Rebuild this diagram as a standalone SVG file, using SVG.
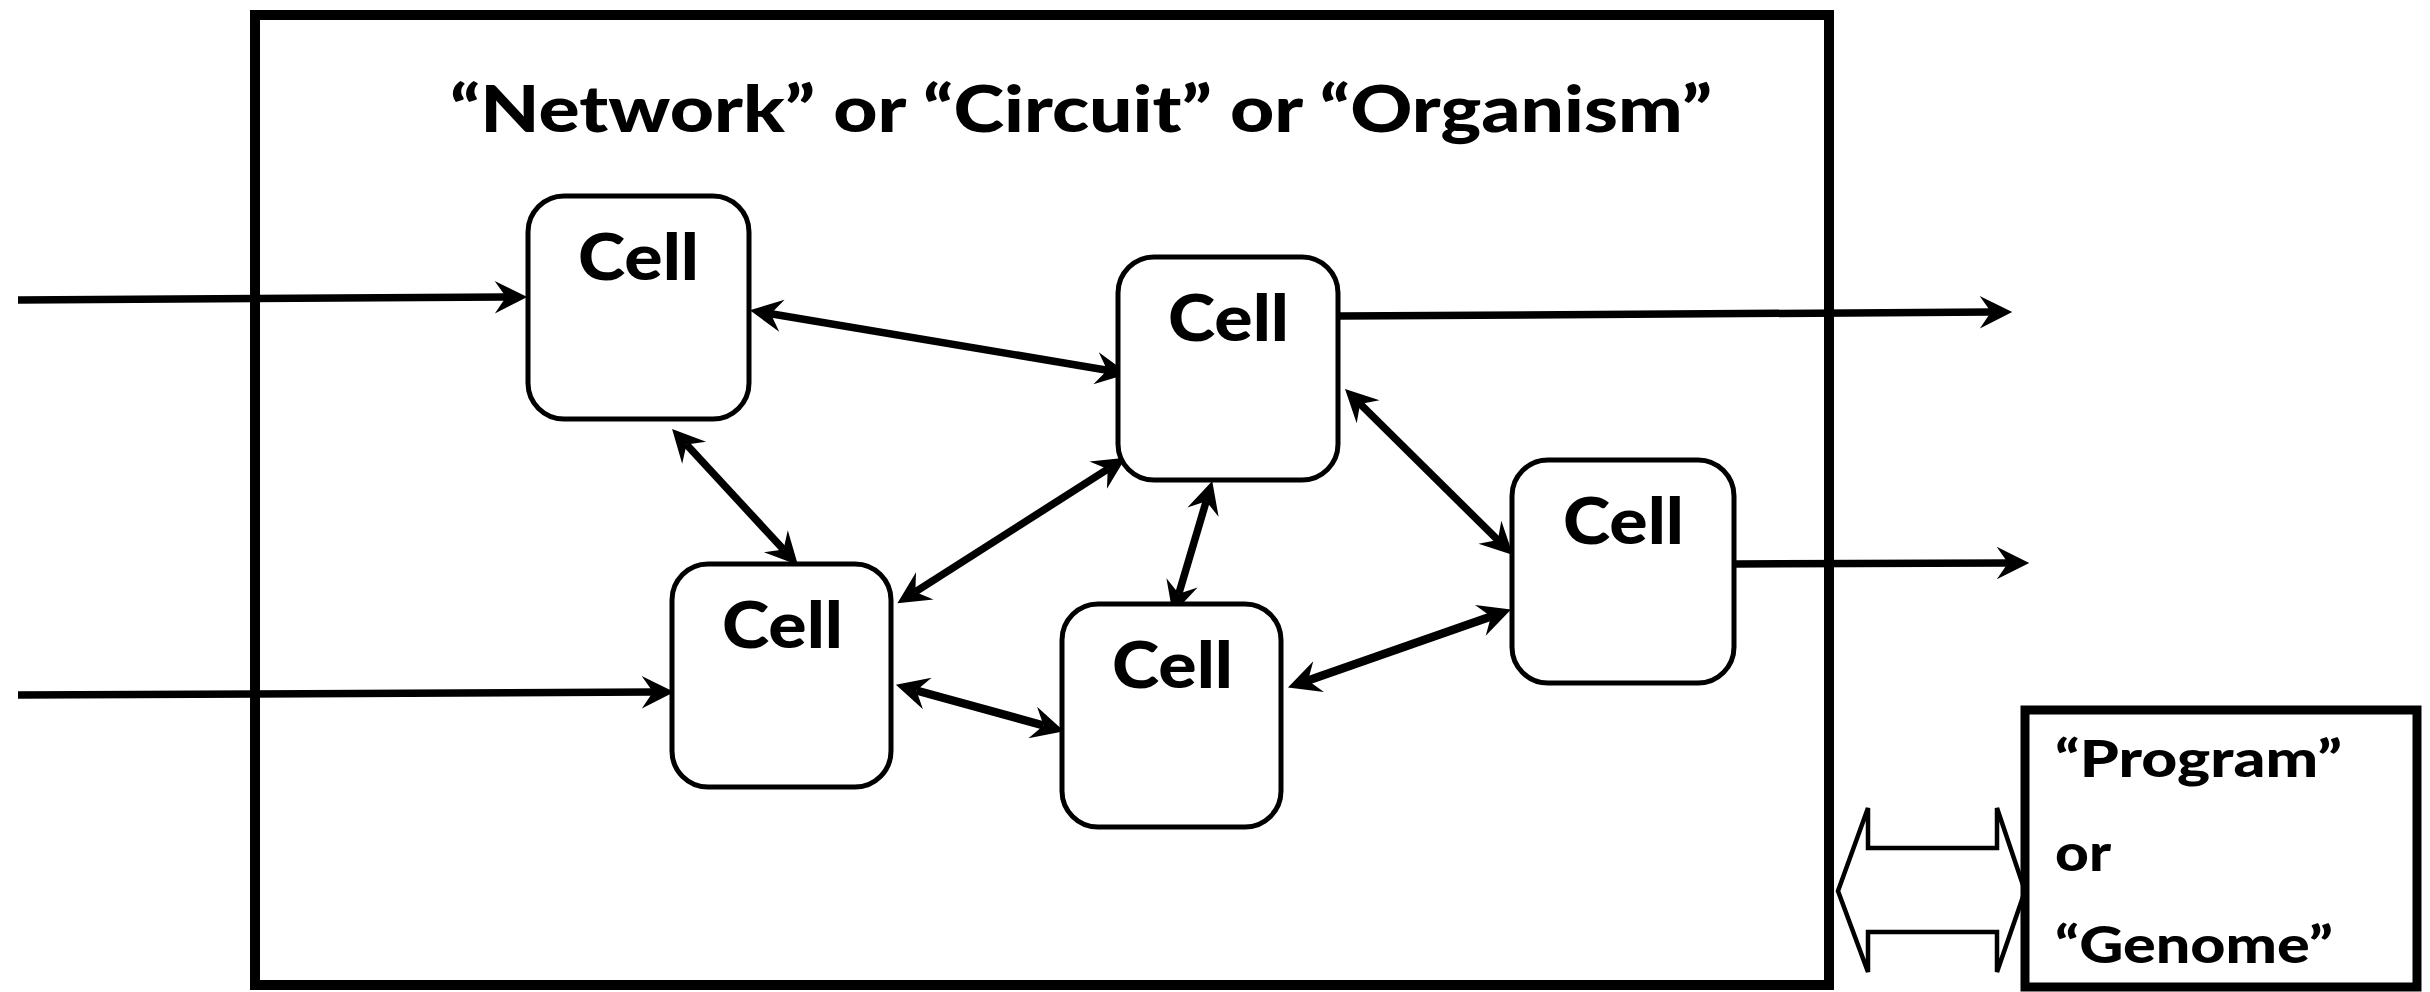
<svg xmlns="http://www.w3.org/2000/svg" width="2430" height="992" viewBox="0 0 2430 992">
<style>
.frame{fill:none;stroke:#000;stroke-width:10}
.cell{fill:#fff;stroke:#000;stroke-width:5}
.lbl{font-family:Lato,"Liberation Sans",sans-serif;font-weight:900;fill:#000}
.cl{font-size:65px}
.pg{font-size:52px}
.conn{stroke:#000;stroke-width:7.5;fill:none}
.thick{stroke-width:8.5}
.hollow{fill:#fff;stroke:#000;stroke-width:4.5;stroke-linejoin:miter}
</style>
<defs>
<marker id="ah" markerUnits="userSpaceOnUse" markerWidth="40" markerHeight="40" viewBox="-12 -15 32 30" refX="0" refY="0" orient="auto-start-reverse" overflow="visible">
<path d="M17,0 L-9,-13 L0,0 L-9,13 Z" fill="#000"/>
</marker>
</defs>
<rect id="outer" class="frame" x="255" y="15" width="1574" height="970"/>
<text id="title" class="lbl" x="450" y="132" font-size="65" textLength="1262" lengthAdjust="spacingAndGlyphs">“Network” or “Circuit” or “Organism”</text>
<g id="connectors">
<line class="conn" x1="18" y1="300" x2="506" y2="297.1" marker-end="url(#ah)"/>
<line class="conn" x1="18" y1="695" x2="653" y2="692.1" marker-end="url(#ah)"/>
<line class="conn" x1="1340" y1="316" x2="1991" y2="312.1" marker-end="url(#ah)"/>
<line class="conn" x1="1736" y1="564" x2="2008" y2="563" marker-end="url(#ah)"/>
<line class="conn" x1="770.8" y1="313.8" x2="1107.2" y2="370.2" marker-start="url(#ah)" marker-end="url(#ah)"/>
<line class="conn" x1="686.5" y1="444.5" x2="783.5" y2="549.5" marker-start="url(#ah)" marker-end="url(#ah)"/>
<line class="conn" x1="915.3" y1="591.9" x2="1107.7" y2="469.1" marker-start="url(#ah)" marker-end="url(#ah)"/>
<line class="conn" x1="1206.2" y1="501.3" x2="1178.8" y2="593.7" marker-start="url(#ah)" marker-end="url(#ah)"/>
<line class="conn" x1="1360.1" y1="403.9" x2="1497.9" y2="540.1" marker-start="url(#ah)" marker-end="url(#ah)"/>
<line class="conn thick" x1="916.4" y1="690.5" x2="1043.6" y2="725.5" marker-start="url(#ah)" marker-end="url(#ah)"/>
<line class="conn thick" x1="1308" y1="680.4" x2="1491" y2="616.6" marker-start="url(#ah)" marker-end="url(#ah)"/>
<path id="exchange" class="hollow" d="M1838,891 L1868,808 L1868,848 L1997,848 L1997,808 L2025,891 L1997,972 L1997,932 L1868,932 L1868,972 Z"/>
</g>
<g id="cell1"><rect class="cell" x="528" y="196" width="221" height="223" rx="36" ry="36"/><text class="lbl cl" x="578" y="280" textLength="121" lengthAdjust="spacingAndGlyphs">Cell</text></g>
<g id="cell2"><rect class="cell" x="1118" y="257" width="220" height="223" rx="36" ry="36"/><text class="lbl cl" x="1168" y="341" textLength="121" lengthAdjust="spacingAndGlyphs">Cell</text></g>
<g id="cell3"><rect class="cell" x="1512" y="460" width="222" height="223" rx="36" ry="36"/><text class="lbl cl" x="1563" y="544" textLength="121" lengthAdjust="spacingAndGlyphs">Cell</text></g>
<g id="cell4"><rect class="cell" x="672" y="564" width="219" height="223" rx="36" ry="36"/><text class="lbl cl" x="722" y="648" textLength="121" lengthAdjust="spacingAndGlyphs">Cell</text></g>
<g id="cell5"><rect class="cell" x="1062" y="604" width="219" height="223" rx="36" ry="36"/><text class="lbl cl" x="1112" y="688" textLength="121" lengthAdjust="spacingAndGlyphs">Cell</text></g>
<g id="program">
<rect class="frame" x="2025" y="710" width="392" height="277" style="stroke-width:9"/>
<text class="lbl pg" x="2055" y="777" textLength="287" lengthAdjust="spacingAndGlyphs">“Program”</text>
<text class="lbl pg" x="2055" y="871" textLength="56" lengthAdjust="spacingAndGlyphs">or</text>
<text class="lbl pg" x="2055" y="963" textLength="278" lengthAdjust="spacingAndGlyphs">“Genome”</text>
</g>
</svg>
